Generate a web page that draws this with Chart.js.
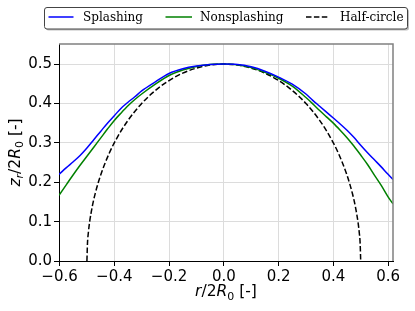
<!DOCTYPE html>
<html>
<head>
<meta charset="utf-8">
<script src="https://cdn.jsdelivr.net/npm/chart.js@4.4.0/dist/chart.umd.min.js"></script>
<style>
  html, body { margin: 0; padding: 0; background: #fff; }
</style>
</head>
<body>
<canvas id="myChart" width="415" height="311"></canvas>
<script>
// radial position r/2R0 shared by the two measured profiles
const rGrid = [-0.602, -0.575, -0.55, -0.525, -0.5, -0.475, -0.45, -0.425, -0.4, -0.375, -0.35, -0.325, -0.3,
	-0.25, -0.2, -0.15, -0.1, -0.05, 0, 0.05, 0.1, 0.15, 0.2, 0.25, 0.3, 0.325, 0.35, 0.375, 0.4, 0.425,
	0.45, 0.475, 0.5, 0.525, 0.55, 0.575, 0.6, 0.618];
const splashZ = [0.220, 0.237, 0.252, 0.268, 0.287, 0.308, 0.329, 0.350, 0.369, 0.388, 0.403, 0.417, 0.432,
	0.455, 0.476, 0.488, 0.495, 0.499, 0.500, 0.499, 0.493, 0.482, 0.467, 0.449, 0.424, 0.408, 0.393, 0.378, 0.363, 0.348,
	0.332, 0.314, 0.294, 0.275, 0.257, 0.239, 0.220, 0.207];
const nonsplashZ = [0.167, 0.194, 0.219, 0.243, 0.266, 0.289, 0.312, 0.335, 0.357, 0.376, 0.394, 0.410, 0.424,
	0.449, 0.471, 0.485, 0.494, 0.499, 0.500, 0.498, 0.491, 0.479, 0.464, 0.444, 0.415, 0.399, 0.382, 0.366, 0.350, 0.332,
	0.313, 0.292, 0.269, 0.245, 0.218, 0.192, 0.163, 0.145];

// reference half-circle
const circleR = [-0.5, -0.498, -0.495, -0.49, -0.48, -0.47, -0.45, -0.42, -0.39, -0.35, -0.3, -0.25, -0.2, -0.15, -0.1, -0.05, 0,
	0.05, 0.1, 0.15, 0.2, 0.25, 0.3, 0.35, 0.39, 0.42, 0.45, 0.47, 0.48, 0.49, 0.495, 0.498, 0.5];
const circleZ = [0, 0.0447, 0.0705, 0.0995, 0.140, 0.1706, 0.2179, 0.2713, 0.3129, 0.3571, 0.400, 0.4330, 0.4583, 0.4770, 0.4899, 0.4975, 0.500,
	0.4975, 0.4899, 0.4770, 0.4583, 0.4330, 0.400, 0.3571, 0.3129, 0.2713, 0.2179, 0.1706, 0.140, 0.0995, 0.0705, 0.0447, 0];

const seriesNames = ['Splashing', 'Nonsplashing', 'Half-circle'];
const xTicks = [-0.6, -0.4, -0.2, 0, 0.2, 0.4, 0.6];
const yTicks = [0, 0.1, 0.2, 0.3, 0.4, 0.5];

// axis titles as [text, style] pieces (i = italic, s = subscript)
const xTitle = [['r', 'i'], ['/2', ''], ['R', 'i'], ['0', 's'], [' [-]', '']];
const yTitle = [['z', 'i'], ['r', 'is'], ['/2', ''], ['R', 'i'], ['0', 's'], [' [-]', '']];

const ctx = document.getElementById('myChart');

function pts(xs, ys) {
	return xs.map((x, i) => ({ x: x, y: ys[i] }));
}

function fmt(v) {
	return Number(v).toFixed(1).replace('-', '\u2212');
}

function fontFor(style) {
	const size = style.includes('s') ? 11 : 15.5;
	return (style.includes('i') ? 'italic ' : '') + size + 'px "DejaVu Sans"';
}

function drawRich(c, parts, x, y, angle) {
	c.save();
	c.translate(x, y);
	c.rotate(angle);
	c.fillStyle = '#000';
	c.textBaseline = 'alphabetic';
	c.textAlign = 'left';
	let total = 0;
	parts.forEach(p => { c.font = fontFor(p[1]); total += c.measureText(p[0]).width; });
	let cx = -total / 2;
	parts.forEach(p => {
		c.font = fontFor(p[1]);
		c.fillText(p[0], cx, p[1].includes('s') ? 3.5 : 0);
		cx += c.measureText(p[0]).width;
	});
	c.restore();
}

const extras = {
	id: 'extras',
	afterDatasetsDraw(chart) {
		const c = chart.ctx;
		const a = chart.chartArea;
		c.save();
		// top / right frame
		c.strokeStyle = '#808080';
		c.lineWidth = 1.5;
		c.beginPath();
		c.moveTo(a.left, a.top);
		c.lineTo(a.right, a.top);
		c.lineTo(a.right, a.bottom);
		c.stroke();
		c.restore();
	},
	afterDraw(chart) {
		const c = chart.ctx;
		const a = chart.chartArea;
		drawRich(c, xTitle, (a.left + a.right) / 2, 296, 0);
		drawRich(c, yTitle, 19.5, (a.top + a.bottom) / 2, -Math.PI / 2);

		// legend box
		c.save();
		c.fillStyle = 'rgba(0,0,0,0.25)';
		c.beginPath();
		c.roundRect(46, 9, 363, 21.5, 2.5);
		c.fill();
		c.fillStyle = '#fff';
		c.strokeStyle = '#444';
		c.lineWidth = 1;
		c.beginPath();
		c.roundRect(44.5, 7.5, 363, 21.5, 2.5);
		c.fill();
		c.stroke();

		const lineX = [48.5, 165.5, 306];
		const lineLen = [25, 26.5, 23];
		const textX = [83, 200, 340];
		c.font = '12px "DejaVu Serif"';
		c.textBaseline = 'alphabetic';
		chart.data.datasets.forEach((ds, i) => {
			c.strokeStyle = ds.borderColor;
			c.lineWidth = ds.borderWidth;
			c.setLineDash(ds.borderDash || []);
			c.beginPath();
			c.moveTo(lineX[i], 17);
			c.lineTo(lineX[i] + lineLen[i], 17);
			c.stroke();
			c.setLineDash([]);
			c.fillStyle = '#000';
			c.fillText(ds.label, textX[i], 21);
		});
		c.restore();
	}
};

new Chart(ctx, {
	type: 'line',
	data: {
		datasets: [{
			label: seriesNames[0],
			data: pts(rGrid, splashZ),
			borderColor: '#0000ff',
			borderWidth: 1.5,
			cubicInterpolationMode: 'monotone',
			pointRadius: 0
		}, {
			label: seriesNames[1],
			data: pts(rGrid, nonsplashZ),
			borderColor: '#008000',
			borderWidth: 1.5,
			cubicInterpolationMode: 'monotone',
			pointRadius: 0
		}, {
			label: seriesNames[2],
			data: pts(circleR, circleZ),
			borderColor: '#000000',
			borderWidth: 1.5,
			borderDash: [5.5, 2.4],
			cubicInterpolationMode: 'monotone',
			pointRadius: 0
		}]
	},
	options: {
		responsive: false,
		animation: false,
		devicePixelRatio: 1,
		layout: { padding: { top: 44, right: 22, left: 0, bottom: 0 } },
		plugins: {
			legend: { display: false },
			tooltip: { enabled: false }
		},
		scales: {
			x: {
				type: 'linear',
				min: -0.602,
				max: 0.618,
				afterBuildTicks: s => { s.ticks = xTicks.map(v => ({ value: v })); },
				afterFit: s => { s.height = 50; s.paddingLeft = 0; s.paddingRight = 0; },
				ticks: {
					callback: v => fmt(v),
					font: { family: 'DejaVu Sans', size: 15 },
					color: '#000',
					padding: 2,
					maxRotation: 0,
					autoSkip: false
				},
				grid: { color: '#dcdcdc', tickColor: '#000', tickLength: 5 },
				border: { color: '#000', width: 1 }
			},
			y: {
				min: 0,
				max: 0.551,
				afterBuildTicks: s => { s.ticks = yTicks.map(v => ({ value: v })); },
				afterFit: s => { s.width = 59; s.paddingTop = 0; s.paddingBottom = 0; },
				ticks: {
					callback: v => fmt(v),
					font: { family: 'DejaVu Sans', size: 15 },
					color: '#000',
					padding: 2,
					autoSkip: false
				},
				grid: { color: '#dcdcdc', tickColor: '#000', tickLength: 5 },
				border: { color: '#000', width: 1 }
			}
		}
	},
	plugins: [extras]
});
</script>
</body>
</html>
